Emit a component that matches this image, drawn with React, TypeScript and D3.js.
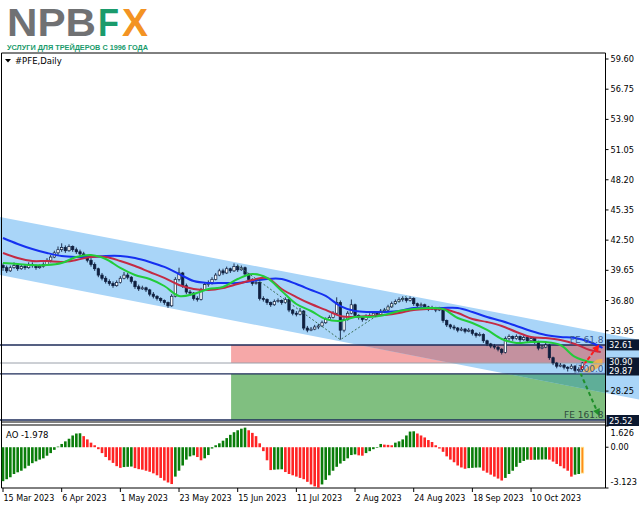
import React from 'react';
import * as d3 from 'd3';

const W = 639;
const H = 508;

// ---------- data ----------
const dateLabels = ['15 Mar 2023', '6 Apr 2023', '1 May 2023', '23 May 2023', '15 Jun 2023', '11 Jul 2023', '2 Aug 2023', '24 Aug 2023', '18 Sep 2023', '10 Oct 2023'];
const dateBars = [0, 16, 32, 48, 64, 80, 96, 112, 128, 144];
const priceTicks = [59.6, 56.75, 53.9, 51.05, 48.2, 45.35, 42.5, 39.65, 36.8, 33.95, 28.25];
const aoTicks = [1.626, 0, -3.123];

// [open, high, low, close]
const candles: [number, number, number, number][] = [
  [40.1, 40.3, 39.6, 39.9], [39.9, 40.1, 39.4, 39.6], [39.6, 40.1, 39.5, 39.9], [39.9, 40.4, 39.8, 40.1],
  [40.1, 40.2, 39.6, 39.8], [39.8, 40.2, 39.7, 40.0], [40.0, 40.2, 39.7, 39.9], [39.9, 40.4, 39.8, 40.2],
  [40.2, 40.4, 39.9, 40.1], [40.1, 40.2, 39.7, 39.9], [39.9, 40.2, 39.8, 40.0], [40.0, 40.4, 39.9, 40.2],
  [40.2, 40.8, 40.1, 40.6], [40.6, 41.1, 40.4, 40.9], [40.9, 41.5, 40.8, 41.3], [41.3, 41.9, 41.1, 41.6],
  [41.6, 42.2, 41.4, 41.8], [41.8, 42.0, 41.3, 41.5], [41.5, 42.1, 41.4, 41.9], [41.9, 42.0, 41.4, 41.6],
  [41.6, 41.8, 41.2, 41.4], [41.4, 41.6, 41.0, 41.2], [41.2, 41.4, 40.8, 41.0], [41.0, 41.1, 40.4, 40.6],
  [40.6, 40.8, 40.0, 40.2], [40.2, 40.4, 39.6, 39.8], [39.8, 39.9, 39.0, 39.2], [39.2, 39.4, 38.7, 38.9],
  [38.9, 39.1, 38.4, 38.6], [38.6, 38.8, 38.2, 38.4], [38.4, 38.6, 38.0, 38.2], [38.2, 38.7, 38.1, 38.5],
  [38.5, 39.1, 38.4, 38.9], [38.9, 39.5, 38.8, 39.2], [39.2, 39.4, 38.8, 39.0], [39.0, 39.1, 38.4, 38.6],
  [38.6, 38.7, 37.9, 38.1], [38.1, 38.3, 37.7, 37.9], [37.9, 38.2, 37.8, 38.0], [38.0, 38.1, 37.6, 37.8],
  [37.8, 37.9, 37.2, 37.4], [37.4, 37.6, 37.0, 37.2], [37.2, 37.3, 36.8, 37.0], [37.0, 37.1, 36.6, 36.8],
  [36.8, 36.9, 36.4, 36.6], [36.6, 36.7, 36.1, 36.3], [36.3, 37.4, 36.2, 37.2], [37.2, 39.0, 37.1, 38.8],
  [38.8, 39.9, 38.6, 39.4], [39.4, 39.5, 38.0, 38.2], [38.2, 38.4, 37.4, 37.6], [37.6, 37.8, 37.3, 37.5],
  [37.5, 37.6, 36.8, 37.0], [37.0, 37.2, 36.7, 36.9], [36.9, 38.0, 36.8, 37.8], [37.8, 38.5, 37.7, 38.3],
  [38.3, 38.7, 38.1, 38.5], [38.5, 39.0, 38.3, 38.8], [38.8, 39.4, 38.7, 39.2], [39.2, 39.8, 39.1, 39.6],
  [39.6, 39.8, 39.2, 39.4], [39.4, 40.0, 39.3, 39.8], [39.8, 39.9, 39.4, 39.6], [39.6, 40.3, 39.5, 40.0],
  [40.0, 40.2, 39.5, 39.7], [39.7, 40.1, 39.6, 39.9], [39.9, 40.0, 39.1, 39.3], [39.3, 39.4, 38.6, 38.8],
  [38.8, 38.9, 38.2, 38.4], [38.4, 38.8, 38.3, 38.5], [38.5, 38.6, 36.8, 37.0], [37.0, 37.2, 36.7, 36.9],
  [36.9, 37.0, 36.4, 36.6], [36.6, 36.7, 36.2, 36.4], [36.4, 36.9, 36.3, 36.7], [36.7, 37.0, 36.6, 36.8],
  [36.8, 36.9, 36.4, 36.6], [36.6, 37.1, 36.5, 36.9], [36.9, 37.0, 35.7, 35.9], [35.9, 36.0, 35.4, 35.6],
  [35.6, 35.8, 35.3, 35.5], [35.5, 36.1, 35.4, 35.8], [35.8, 35.9, 34.0, 34.2], [34.2, 34.4, 33.8, 34.0],
  [34.0, 34.3, 33.9, 34.1], [34.1, 34.5, 34.0, 34.3], [34.3, 34.6, 34.1, 34.4], [34.4, 34.9, 34.3, 34.7],
  [34.7, 35.2, 34.6, 35.0], [35.0, 35.4, 34.9, 35.2], [35.2, 35.8, 35.1, 35.6], [35.6, 37.1, 35.5, 36.6],
  [36.6, 36.8, 33.1, 34.0], [34.0, 35.2, 33.8, 35.0], [35.0, 35.8, 34.9, 35.6], [35.6, 36.9, 35.5, 36.4],
  [36.4, 36.5, 35.2, 35.4], [35.4, 35.5, 35.0, 35.2], [35.2, 35.3, 34.8, 35.0], [35.0, 35.5, 34.9, 35.3],
  [35.3, 35.6, 35.2, 35.4], [35.4, 35.8, 35.3, 35.6], [35.6, 35.7, 35.3, 35.5], [35.5, 36.0, 35.4, 35.8],
  [35.8, 36.1, 35.6, 35.9], [35.9, 36.4, 35.8, 36.2], [36.2, 36.7, 36.1, 36.5], [36.5, 36.9, 36.4, 36.7],
  [36.7, 37.1, 36.6, 36.9], [36.9, 37.2, 36.7, 37.0], [37.0, 37.1, 36.6, 36.8], [36.8, 37.2, 36.7, 37.0],
  [37.0, 37.1, 36.3, 36.5], [36.5, 36.6, 36.1, 36.3], [36.3, 36.6, 36.2, 36.4], [36.4, 36.5, 36.0, 36.2],
  [36.2, 36.3, 35.8, 36.0], [36.0, 36.3, 35.9, 36.1], [36.1, 36.2, 35.7, 35.9], [35.9, 36.2, 35.8, 36.0],
  [36.0, 36.0, 34.7, 34.9], [34.9, 35.0, 34.3, 34.5], [34.5, 34.6, 34.1, 34.3], [34.3, 34.5, 34.0, 34.2],
  [34.2, 34.3, 33.8, 34.0], [34.0, 34.3, 33.9, 34.1], [34.1, 34.2, 33.7, 33.9], [33.9, 34.2, 33.8, 34.0],
  [34.0, 34.1, 33.5, 33.7], [33.7, 33.8, 33.3, 33.5], [33.5, 33.8, 33.4, 33.6], [33.6, 33.7, 32.8, 33.0],
  [33.0, 33.1, 32.5, 32.7], [32.7, 32.8, 32.3, 32.5], [32.5, 32.7, 32.2, 32.4], [32.4, 32.5, 32.0, 32.2],
  [32.2, 32.3, 31.7, 31.9], [31.9, 33.4, 31.8, 33.2], [33.2, 33.6, 33.0, 33.4], [33.4, 33.5, 33.0, 33.2],
  [33.2, 33.6, 33.1, 33.4], [33.4, 33.5, 32.9, 33.1], [33.1, 33.5, 33.0, 33.3], [33.3, 33.4, 32.8, 33.0],
  [33.0, 33.4, 32.9, 33.2], [33.2, 33.3, 32.7, 32.9], [32.9, 33.0, 32.1, 32.3], [32.3, 32.6, 32.2, 32.4],
  [32.4, 32.8, 32.3, 32.6], [32.6, 32.7, 31.2, 31.4], [31.4, 31.5, 30.7, 30.9], [30.9, 31.0, 30.4, 30.6],
  [30.6, 30.9, 30.5, 30.7], [30.7, 30.8, 30.3, 30.5], [30.5, 30.6, 30.1, 30.4], [30.4, 30.8, 30.3, 30.6],
  [30.6, 30.7, 30.0, 30.2], [30.2, 30.5, 30.0, 30.3], [30.3, 31.0, 30.1, 30.9],
];

// Awesome Oscillator values, one per bar
const aoValues = [
  -2.6, -2.45, -2.3, -2.05, -1.92, -1.8, -1.62, -1.42, -1.22, -1.08, -0.95, -0.85, -0.65, -0.45, -0.2, 0.05,
  0.25, 0.45, 0.65, 0.9, 1.05, 1.07, 0.85, 0.6, 0.35, 0.15, -0.15, -0.45, -0.75, -1.0, -1.2, -1.45,
  -1.58, -1.52, -1.5, -1.48, -1.6, -1.68, -1.72, -1.8, -1.88, -2.0, -2.15, -2.35, -2.55, -2.7, -2.82, -2.25,
  -1.8, -1.4, -0.95, -0.7, -0.62, -0.75, -1.0, -0.85, -0.6, -0.1, 0.15, 0.3, 0.5, 0.7, 0.95, 1.15,
  1.3, 1.42, 1.5, 1.3, 1.1, 0.85, 0.3, -0.3, -1.0, -1.75, -1.72, -1.7, -1.69, -1.9, -2.05, -2.15,
  -2.25, -2.35, -2.45, -2.65, -2.85, -3.0, -3.1, -2.85, -2.5, -2.15, -1.8, -1.5, -1.25, -1.05, -0.85, -0.6,
  -0.55, -0.62, -0.65, -0.45, -0.3, -0.15, 0.0, 0.25, 0.2, 0.18, 0.15, 0.35, 0.45, 0.6, 0.9, 1.2,
  1.22, 1.05, 0.9, 0.75, 0.55, 0.4, 0.15, -0.1, -0.35, -0.7, -0.95, -1.15, -1.4, -1.55, -1.65, -1.6,
  -1.58, -1.56, -1.55, -1.8, -1.95, -2.1, -2.25, -2.4, -2.55, -2.35, -2.05, -1.8, -1.5, -1.2, -1.05, -0.95,
  -0.97, -0.96, -0.95, -0.94, -0.93, -0.95, -1.1, -1.28, -1.45, -1.62, -1.8, -2.25, -2.1, -2.05, -1.978,
];

// Alligator lines: [bar index, price]
const jawLine: [number, number][] = [
  [0, 42.7], [4, 42.14], [8, 41.66], [12, 41.29], [16, 41.0], [20, 40.91], [24, 40.91], [28, 41.0], [32, 41.0],
  [36, 40.81], [40, 40.44], [44, 39.97], [48, 39.3], [52, 38.64], [56, 38.45], [60, 38.45], [64, 38.45],
  [68, 38.64], [72, 38.83], [76, 38.83], [80, 38.36], [84, 37.79], [88, 37.23], [92, 36.28], [96, 35.81],
  [100, 35.72], [104, 35.72], [108, 35.81], [112, 36.1], [116, 36.1], [120, 36.1], [124, 36.1], [128, 35.72],
  [132, 35.25], [136, 34.87], [140, 34.4], [144, 33.92], [148, 33.55], [152, 33.36], [156, 33.26], [160, 32.88], [163.5, 32.32],
];
const teethLine: [number, number][] = [
  [0, 41.29], [4, 40.81], [8, 40.53], [12, 40.53], [16, 40.44], [20, 40.63], [24, 40.91], [28, 40.91], [32, 40.53],
  [36, 40.06], [40, 39.49], [44, 38.93], [48, 38.27], [52, 37.89], [56, 37.79], [60, 37.98], [64, 38.36],
  [68, 38.73], [72, 38.93], [76, 37.89], [80, 37.13], [84, 36.47], [88, 35.91], [92, 35.34], [96, 35.25],
  [100, 35.34], [104, 35.43], [108, 35.62], [112, 35.91], [116, 36.0], [120, 36.0], [124, 35.62], [128, 35.05],
  [132, 34.77], [136, 34.4], [140, 33.83], [144, 33.36], [148, 33.26], [152, 33.07], [156, 32.7], [160, 32.13], [163, 31.94],
];
const lipsLine: [number, number][] = [
  [0, 40.34], [4, 40.25], [8, 40.15], [12, 40.15], [16, 40.34], [20, 40.91], [24, 41.1], [28, 40.72], [32, 39.87],
  [36, 39.21], [40, 38.83], [44, 38.17], [48, 37.23], [52, 37.42], [56, 37.89], [60, 38.08], [64, 38.83],
  [68, 39.3], [72, 38.93], [76, 37.7], [80, 36.47], [84, 35.81], [88, 35.05], [92, 34.87], [96, 35.25],
  [100, 35.25], [104, 35.43], [108, 35.81], [112, 36.0], [116, 36.1], [120, 36.0], [124, 35.15], [128, 34.68],
  [132, 34.02], [136, 33.17], [140, 32.79], [144, 32.88], [148, 32.88], [152, 32.6], [156, 31.47], [160, 30.99], [162, 30.9],
];

// regression channel (two rays) in [bar, price]
const channelTop: [number, number][] = [[-1, 44.7], [174, 33.06]];
const channelBottom: [number, number][] = [[-1, 39.22], [174, 27.41]];

// Fibonacci expansion
const zigzag: [number, number][] = [[64, 40.1], [92, 33.1], [110, 37.2]];
const zoneStartBar = 62.2;
const fe618 = 32.61;
const bidPrice = 30.9;
const fe100 = 29.87;
const fe1618 = 25.52;
const aoLast = -1.978;

// ---------- layout ----------
const FONT = 'DejaVu Sans, Verdana, sans-serif';
const LOGO_FONT = 'Liberation Sans, Arial, sans-serif';
const plotL = 1.5;
const plotR = 605.5;
const mainTop = 53;
const mainBottom = 422;
const aoTop = 426;
const aoBottom = 488;

export default function App() {
  const x = d3.scaleLinear().domain([0, 16]).range([3, 3 + 16 * 3.667]);
  const y = d3.scaleLinear().domain([59.6, 25.52]).range([59, 420]);
  const ya = d3.scaleLinear().domain([1.626, -3.123]).range([aoTop, aoBottom]);

  const lineGen = d3
    .line<[number, number]>()
    .x((d) => x(d[0]))
    .y((d) => y(d[1]))
    .curve(d3.curveCatmullRom.alpha(0.5));

  const chanPts = [
    [x(channelTop[0][0]), y(channelTop[0][1])],
    [x(channelTop[1][0]), y(channelTop[1][1])],
    [x(channelBottom[1][0]), y(channelBottom[1][1])],
    [x(channelBottom[0][0]), y(channelBottom[0][1])],
  ]
    .map((p) => p.join(','))
    .join(' ');

  const zx = x(zoneStartBar);
  const pinkY0 = y(fe618);
  const pinkY1 = y(bidPrice);
  const greenY0 = y(fe100);
  const greenY1 = y(fe1618);

  const bodyW = 2.4;
  const candleColor = '#0f1f3f';

  const lastX = x(candles.length - 1);

  const gA0 = [lastX - 2, y(fe100) - 1];
  const gA1 = [lastX + 15, y(fe1618) - 8];
  const rA0 = [lastX - 2, y(30.3)];
  const rA1 = [lastX + 15, y(32.45)];

  const arrowHead = (p0: number[], p1: number[], size: number) => {
    const ang = Math.atan2(p1[1] - p0[1], p1[0] - p0[0]);
    const a1 = ang + Math.PI * 0.85;
    const a2 = ang - Math.PI * 0.85;
    return `${p1[0]},${p1[1]} ${p1[0] + size * Math.cos(a1)},${p1[1] + size * Math.sin(a1)} ${p1[0] + size * Math.cos(a2)},${p1[1] + size * Math.sin(a2)}`;
  };

  return (
    <div style={{ position: 'absolute', left: 0, top: 0, width: W, height: H, background: '#fff' }}>
      <svg width={W} height={H} style={{ display: 'block', fontFamily: FONT }}>
        <defs>
          <clipPath id="chanClip">
            <polygon points={chanPts} />
          </clipPath>
          <clipPath id="mainClip">
            <rect x={0} y={mainTop} width={W} height={mainBottom - mainTop} />
          </clipPath>
        </defs>
        <rect x={0} y={0} width={W} height={H} fill="#ffffff" />

        {/* logo */}
        <text x={7} y={35.5} fontFamily={LOGO_FONT} fontWeight="bold" fontSize={38} fill="#707173" textLength={89} lengthAdjust="spacingAndGlyphs">NPB</text>
        <text x={98} y={35.5} fontFamily={LOGO_FONT} fontWeight="bold" fontSize={38} fill="#1a9b6c" textLength={21} lengthAdjust="spacingAndGlyphs">F</text>
        <text x={122} y={35.5} fontFamily={LOGO_FONT} fontWeight="bold" fontSize={38} fill="#f39323" textLength={26} lengthAdjust="spacingAndGlyphs">X</text>
        <text x={7} y={49.5} fontFamily={LOGO_FONT} fontWeight="bold" fontSize={7} fill="#1a9b6c" textLength={141} lengthAdjust="spacingAndGlyphs">УСЛУГИ ДЛЯ ТРЕЙДЕРОВ С 1996 ГОДА</text>

        {/* main panel background objects */}
        <g clipPath="url(#mainClip)">
          <rect x={zx} y={pinkY0} width={plotR - zx} height={pinkY1 - pinkY0} fill="#f6a8a8" />
          <rect x={zx} y={greenY0} width={plotR - zx} height={greenY1 - greenY0} fill="#80bf80" />
        </g>
        <polygon points={chanPts} fill="#a9d5f8" />
        <g clipPath="url(#chanClip)">
          <rect x={zx} y={pinkY0} width={plotR - zx} height={pinkY1 - pinkY0} fill="#c4919f" />
          <rect x={zx} y={greenY0} width={plotR - zx} height={greenY1 - greenY0} fill="#5fae98" />
        </g>

        {/* horizontal levels */}
        <line x1={0} x2={plotR} y1={y(fe618)} y2={y(fe618)} stroke="#1c2b58" strokeWidth={1.5} />
        <line x1={0} x2={plotR} y1={y(bidPrice)} y2={y(bidPrice)} stroke="#9aa0aa" strokeWidth={1} />
        <line x1={0} x2={plotR} y1={y(fe100)} y2={y(fe100)} stroke="#1c2b58" strokeWidth={1.2} />
        <line x1={0} x2={plotR} y1={y(fe1618)} y2={y(fe1618)} stroke="#1c2b58" strokeWidth={1.5} />

        {/* candles */}
        <g>
          {candles.map((c, i) => {
            const [o, h, l, cl] = c;
            const cx = x(i);
            const bull = cl >= o;
            const top = y(Math.max(o, cl));
            const bot = y(Math.min(o, cl));
            return (
              <g key={i}>
                <line x1={cx} x2={cx} y1={y(h)} y2={y(l)} stroke={candleColor} strokeWidth={0.9} />
                <rect x={cx - bodyW / 2} y={top} width={bodyW} height={Math.max(0.8, bot - top)} fill={bull ? '#ffffff' : candleColor} stroke={candleColor} strokeWidth={0.7} />
              </g>
            );
          })}
        </g>

        {/* alligator */}
        <path d={lineGen(jawLine) || ''} fill="none" stroke="#1530f0" strokeWidth={2} />
        <path d={lineGen(teethLine) || ''} fill="none" stroke="#c42a44" strokeWidth={2} />
        <path d={lineGen(lipsLine) || ''} fill="none" stroke="#22cc3a" strokeWidth={2} />

        {/* zigzag of FE */}
        <polyline
          points={zigzag.map((d) => `${x(d[0])},${y(d[1])}`).join(' ')}
          fill="none"
          stroke="#3b6e55"
          strokeWidth={1}
          strokeDasharray="2,2"
        />

        {/* orange marker */}
        <polygon points={`${lastX},${y(30.05)} ${lastX + 14},${y(31.2)} ${lastX + 20},${y(31.3)} ${lastX + 20},${y(30.7)} ${lastX + 7},${y(29.95)}`} fill="#f3b04c" opacity={0.9} />

        {/* arrows */}
        <line x1={gA0[0]} y1={gA0[1]} x2={gA1[0]} y2={gA1[1]} stroke="#1f8f2a" strokeWidth={2} strokeDasharray="4,3" />
        <polygon points={arrowHead(gA0, [gA1[0] + 2, gA1[1] + 4], 8)} fill="#1f8f2a" />
        <line x1={rA0[0]} y1={rA0[1]} x2={rA1[0]} y2={rA1[1]} stroke="#ff1a1a" strokeWidth={2} strokeDasharray="4,2" />
        <polygon points={arrowHead(rA0, [rA1[0] + 2, rA1[1] - 2], 8)} fill="#ff1a1a" />

        {/* FE labels */}
        <text x={plotR - 2} y={y(fe618) - 2} textAnchor="end" fontSize={9} fill="#3a5a90">FE 61.8</text>
        <rect x={plotR - 29} y={y(fe100) - 10} width={28} height={9} fill="none" stroke="#7fa6d6" strokeWidth={0.8} />
        <text x={plotR - 2} y={y(fe100) - 2} textAnchor="end" fontSize={9} fill="#3a5a90">100.0</text>
        <text x={plotR - 2} y={y(fe1618) - 2} textAnchor="end" fontSize={9} fill="#2e4a3c">FE 161.8</text>

        {/* frames */}
        <line x1={plotL} x2={plotR} y1={mainTop} y2={mainTop} stroke="#000" strokeWidth={1} />
        <line x1={plotL} x2={plotL} y1={mainTop} y2={aoBottom} stroke="#000" strokeWidth={1} />
        <line x1={plotR} x2={plotR} y1={mainTop} y2={aoBottom} stroke="#000" strokeWidth={1} />
        <line x1={plotL} x2={plotR} y1={mainBottom} y2={mainBottom} stroke="#000" strokeWidth={1} />
        <line x1={plotL} x2={plotR} y1={aoTop - 1} y2={aoTop - 1} stroke="#000" strokeWidth={1} />
        <line x1={plotL} x2={plotR} y1={aoBottom} y2={aoBottom} stroke="#000" strokeWidth={1} />

        {/* chart title */}
        <polygon points="5,59 11,59 8,62.5" fill="#000" />
        <text x={15} y={64} fontSize={8.5} fill="#000">#PFE,Daily</text>

        {/* price axis */}
        {priceTicks.map((p) => (
          <g key={p}>
            <line x1={plotR} x2={plotR + 3} y1={y(p)} y2={y(p)} stroke="#000" />
            <text x={plotR + 5} y={y(p) + 3} fontSize={8.2} fill="#000">{p.toFixed(2)}</text>
          </g>
        ))}
        <rect x={606.5} y={y(fe618) - 5.5} width={33} height={11} fill="#0b1830" />
        <text x={609} y={y(fe618) + 3} fontSize={8.2} fill="#fff">{fe618.toFixed(2)}</text>
        <rect x={606.5} y={y(bidPrice) - 5.5} width={33} height={18} fill="#0b1830" />
        <text x={609} y={y(bidPrice) + 2} fontSize={8.2} fill="#fff">{bidPrice.toFixed(2)}</text>
        <text x={609} y={y(bidPrice) + 10.5} fontSize={8.2} fill="#fff">{fe100.toFixed(2)}</text>
        <rect x={606.5} y={y(fe1618) - 5} width={33} height={11} fill="#0b1830" />
        <text x={609} y={y(fe1618) + 3.5} fontSize={8.2} fill="#fff">{fe1618.toFixed(2)}</text>

        {/* AO panel */}
        {aoValues.map((v, i) => {
          const prev = i > 0 ? aoValues[i - 1] : v;
          const isLast = i === aoValues.length - 1;
          const col = isLast ? '#ff8c1a' : v >= prev ? '#0a7d0a' : '#ff2424';
          const y0 = ya(0);
          const y1 = ya(v);
          return (
            <rect
              key={i}
              x={x(i) - 1.3}
              y={Math.min(y0, y1)}
              width={2.6}
              height={Math.max(0.6, Math.abs(y1 - y0))}
              fill={col}
              stroke={isLast ? '#ffe08a' : 'none'}
              strokeWidth={isLast ? 0.8 : 0}
            />
          );
        })}
        <text x={6} y={438} fontSize={8.5} fill="#000">{`AO ${aoLast.toFixed(3)}`}</text>
        {aoTicks.map((t, k) => {
          const off = k === 0 ? 7 : k === 2 ? -6 : 0;
          return (
            <g key={t}>
              <line x1={plotR} x2={plotR + 3} y1={ya(t)} y2={ya(t)} stroke="#000" />
              <text x={plotR + 5} y={ya(t) + off + 3} fontSize={8.2} fill="#000">{t === 0 ? '0.00' : t.toFixed(3)}</text>
            </g>
          );
        })}

        {/* time axis */}
        {dateBars.map((b, k) => (
          <g key={b}>
            <line x1={x(b)} x2={x(b)} y1={aoBottom} y2={aoBottom + 4} stroke="#000" />
            <text x={x(b) + 0.5} y={501} fontSize={8} fill="#000">{dateLabels[k]}</text>
          </g>
        ))}
      </svg>
    </div>
  );
}
